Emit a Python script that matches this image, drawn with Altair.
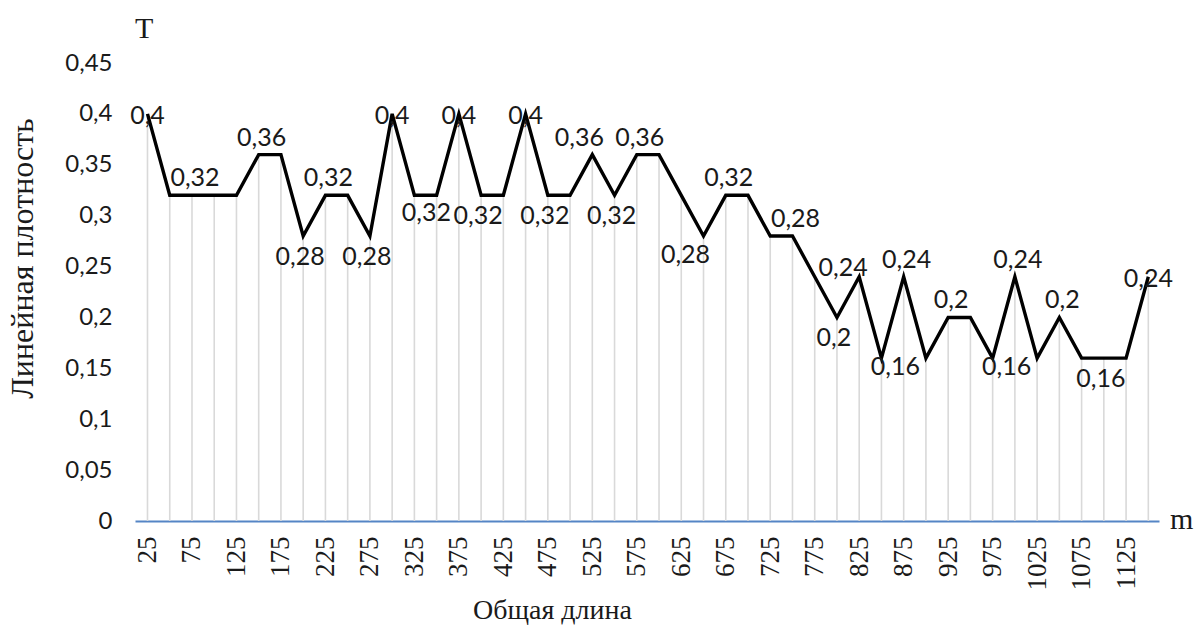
import altair as alt
import pandas as pd

# ---- data ----
lengths = [25, 50, 75, 100, 125, 150, 175, 200, 225, 250, 275, 300, 325, 350, 375,
           400, 425, 450, 475, 500, 525, 550, 575, 600, 625, 650, 675, 700, 725, 750,
           775, 800, 825, 850, 875, 900, 925, 950, 975, 1000, 1025, 1050, 1075, 1100,
           1125, 1150]
density = [0.4, 0.32, 0.32, 0.32, 0.32, 0.36, 0.36, 0.28, 0.32, 0.32, 0.28, 0.4,
           0.32, 0.32, 0.4, 0.32, 0.32, 0.4, 0.32, 0.32, 0.36, 0.32, 0.36, 0.36,
           0.32, 0.28, 0.32, 0.32, 0.28, 0.28, 0.24, 0.2, 0.24, 0.16, 0.24, 0.16,
           0.2, 0.2, 0.16, 0.24, 0.16, 0.2, 0.16, 0.16, 0.16, 0.24]

label_lengths = [25, 75, 150, 200, 225, 275, 300, 325, 375, 400, 450, 475, 525, 550,
                 575, 650, 675, 750, 800, 825, 850, 875, 925, 975, 1000, 1050, 1100, 1150]
label_places = ["center", "above", "above", "below", "above", "below", "center",
                "belowright", "center", "below", "center", "below", "aboveleft", "below",
                "above", "belowleft", "above", "above", "below", "left", "right", "above",
                "above", "right", "above", "above", "below", "center"]

x_tick_labels = [25, 75, 125, 175, 225, 275, 325, 375, 425, 475, 525, 575, 625, 675,
                 725, 775, 825, 875, 925, 975, 1025, 1075, 1125]
y_ticks = [0, 0.05, 0.1, 0.15, 0.2, 0.25, 0.3, 0.35, 0.4, 0.45]

x_title = "Общая длина"
y_title = "Линейная плотность"
y_unit = "T"
x_unit = "m"

# ---- table ----
df = pd.DataFrame({"length": lengths, "density": density})
df["label"] = df["density"].map(lambda v: f"{v:g}".replace(".", ","))
place_map = dict(zip(label_lengths, label_places))
df["place"] = df["length"].map(place_map).fillna("none")

W, H = 1024, 458
xscale = alt.Scale(domain=[10.95, 1162], nice=False, zero=False)
yscale = alt.Scale(domain=[0, 0.45], nice=False)

serif = "Liberation Serif"
sans = "Lato"
ink = "#1a1a1a"

x_axis = alt.Axis(values=x_tick_labels, format="d", labelAngle=270, labelFont=serif,
                  labelFontSize=27, labelColor=ink, labelPadding=15, labelFlush=False,
                  labelOverlap=False, ticks=False, grid=False,
                  domainColor="#5585c5", domainWidth=2,
                  title=x_title, titleFont=serif, titleFontSize=28,
                  titleFontWeight="normal", titleColor=ink, titleX=417, titleY=97,
                  titleAlign="center", titleBaseline="alphabetic")
y_axis = alt.Axis(values=y_ticks,
                  labelExpr="replace(format(datum.value, '.2~f'), '.', ',')",
                  labelFont=sans, labelFontSize=24, labelColor=ink, labelPadding=23,
                  ticks=False, domain=False, grid=False,
                  title=y_title, titleFont=serif, titleFontSize=32,
                  titleFontWeight="normal", titleColor=ink, titleAngle=270,
                  titleX=-103, titleY=195, titleAlign="center",
                  titleBaseline="alphabetic")

base = alt.Chart(df)

drops = base.mark_rule(color="#d9d9d9", strokeWidth=1.6).encode(
    x=alt.X("length:Q", scale=xscale, axis=x_axis),
    y=alt.Y("density:Q", scale=yscale, axis=y_axis),
    y2=alt.datum(0),
)

line = base.mark_line(color="black", strokeWidth=3.4).encode(
    x=alt.X("length:Q", scale=xscale),
    y=alt.Y("density:Q", scale=yscale),
)

offsets = {
    "center": (0, 2),
    "above": (3, -17),
    "aboveleft": (-13, -17),
    "below": (-3, 21),
    "belowleft": (-18, 19),
    "belowright": (12, 18),
    "right": (14, 9),
    "left": (-16, -9),
}
label_layers = []
for place, (dx, dy) in offsets.items():
    label_layers.append(
        base.transform_filter(alt.datum.place == place)
        .mark_text(font=sans, fontSize=25, color=ink, dx=dx, dy=dy,
                   align="center", baseline="middle")
        .encode(x=alt.X("length:Q", scale=xscale),
                y=alt.Y("density:Q", scale=yscale),
                text="label:N")
    )

units = pd.DataFrame({"t": [y_unit, x_unit]})
t_unit = alt.Chart(units).transform_filter(alt.datum.t == y_unit).mark_text(
    font=serif, fontSize=30, color=ink, align="left", baseline="alphabetic"
).encode(x=alt.value(0), y=alt.value(-25), text="t:N")
m_unit = alt.Chart(units).transform_filter(alt.datum.t == x_unit).mark_text(
    font=serif, fontSize=30, color=ink, align="left", baseline="alphabetic"
).encode(x=alt.value(W + 11), y=alt.value(H + 8), text="t:N")

chart = alt.layer(drops, line, *label_layers, t_unit, m_unit).properties(
    width=W, height=H,
    padding={"left": 135, "top": 63, "right": 37, "bottom": 107},
    autosize=alt.AutoSizeParams(type="none"),
    background="white",
).configure_view(stroke=None)

chart.save("out.html", embed_options={"renderer": "svg", "actions": False})
